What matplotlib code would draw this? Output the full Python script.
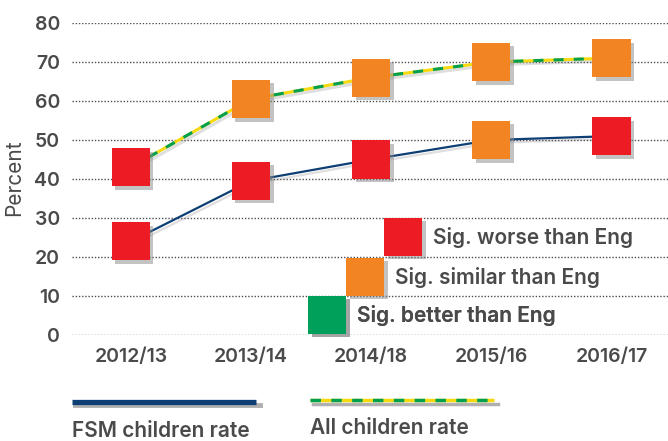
import matplotlib
matplotlib.use("Agg")
import matplotlib.pyplot as plt
import matplotlib.patheffects as pe
from matplotlib.lines import Line2D

years = ["2012/13", "2013/14", "2014/18", "2015/16", "2016/17"]
fsm_rate = [24, 39.5, 45, 50, 51]
all_rate = [43, 60.5, 66, 70, 71]
fsm_sig = ["worse", "worse", "worse", "similar", "worse"]
all_sig = ["worse", "similar", "similar", "similar", "similar"]

sig_colors = {"worse": "#ed1c24", "similar": "#f28421", "better": "#00a05a"}
sig_labels = {"worse": "Sig. worse than Eng",
              "similar": "Sig. similar than Eng",
              "better": "Sig. better than Eng"}

txt = "#4a4a4a"
plt.rcParams["font.family"] = ["Inter", "DejaVu Sans"]
plt.rcParams["font.weight"] = "semibold"

fig = plt.figure(figsize=(6.68, 4.41), dpi=100)
ax = fig.add_axes([72 / 668, 106 / 441, 596 / 668, 312 / 441])

x = list(range(len(years)))
shadow = [pe.SimpleLineShadow(offset=(1.5, -2), shadow_color="gray", alpha=0.25), pe.Normal()]

ax.plot(x, fsm_rate, color="#0d3f74", lw=1.6, zorder=3, path_effects=shadow)
ax.plot(x, all_rate, color="#f7d90f", lw=2.2, zorder=3, path_effects=shadow)
ax.plot(x, all_rate, color="#00a050", lw=2.2, dashes=(3.3, 3.3), zorder=3)

ms = 27.4
box_shadow = [pe.SimplePatchShadow(offset=(2.5, -2.5), shadow_rgbFace="#888888", alpha=0.5), pe.Normal()]
ax.scatter(x, fsm_rate, s=ms ** 2, marker="s", c=[sig_colors[s] for s in fsm_sig],
           linewidths=0, zorder=4, clip_on=False, path_effects=box_shadow)
ax.scatter(x, all_rate, s=ms ** 2, marker="s", c=[sig_colors[s] for s in all_sig],
           linewidths=0, zorder=4, clip_on=False, path_effects=box_shadow)

ax.set_xlim(-0.49, 4.47)
ax.set_ylim(0, 80)
ax.set_yticks(range(0, 81, 10))
ax.set_xticks(x)
ax.set_xticklabels(years)
ax.tick_params(length=0, labelsize=14, colors=txt)
ax.tick_params(axis="y", pad=8.5)
ax.tick_params(axis="x", pad=9)
ax.yaxis.grid(True, color="#4d4d4d", lw=1.0, linestyle=(0, (1, 1.3)))
ax.set_axisbelow(True)
for sp in ax.spines.values():
    sp.set_visible(False)

ax.set_ylabel("Percent", fontsize=15, color=txt)
ax.yaxis.set_label_coords(-0.08, 0.505)

# staggered significance legend
spots = {"worse": (384, 237.5), "similar": (346, 277.5), "better": (308, 315.5)}
for key in ["worse", "similar", "better"]:
    h = Line2D([], [], marker="s", linestyle="none", markersize=ms,
               markerfacecolor=sig_colors[key], markeredgewidth=0,
               path_effects=box_shadow)
    px, py = spots[key]
    leg = ax.legend([h], [sig_labels[key]], loc="center left",
                    bbox_to_anchor=(px / 668, 1 - py / 441),
                    bbox_transform=fig.transFigure, frameon=False,
                    fontsize=15, handlelength=1.85, handletextpad=0.5,
                    borderpad=0, borderaxespad=0, labelcolor=txt)
    ax.add_artist(leg)

# series key under the chart
fig.add_artist(Line2D([75 / 668, 260 / 668], [1 - 405 / 441] * 2, color="#b0b0b0", lw=3.5))
fig.add_artist(Line2D([72 / 668, 256 / 668], [1 - 402 / 441] * 2, color="#0d3f74", lw=3.8,
                      solid_capstyle="butt"))
fig.add_artist(Line2D([313 / 668, 498 / 668], [1 - 404 / 441] * 2, color="#b0b0b0", lw=2.5))
fig.add_artist(Line2D([310 / 668, 494 / 668], [1 - 400 / 441] * 2, color="#f7d90f", lw=2.5,
                      solid_capstyle="butt"))
fig.add_artist(Line2D([310 / 668, 494 / 668], [1 - 400 / 441] * 2, color="#00a050", lw=2.5,
                      dashes=(3, 3), dash_capstyle="butt"))
fig.text(72 / 668, 1 - 431 / 441, "FSM children rate", fontsize=15, color=txt, va="center")
fig.text(310 / 668, 1 - 428 / 441, "All children rate", fontsize=15, color=txt, va="center")

fig.savefig("out.png", dpi=100)
